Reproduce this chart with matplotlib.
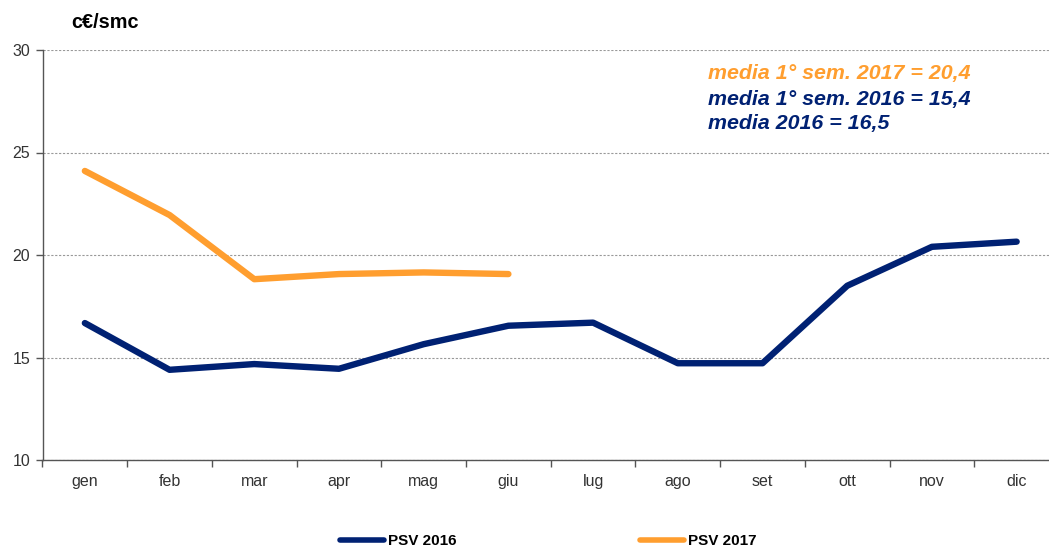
import matplotlib
matplotlib.use("Agg")
import matplotlib.pyplot as plt
from matplotlib.lines import Line2D

months = ["gen", "feb", "mar", "apr", "mag", "giu", "lug", "ago", "set", "ott", "nov", "dic"]
psv_2016 = [16.68, 14.4, 14.68, 14.45, 15.65, 16.55, 16.7, 14.72, 14.72, 18.5, 20.4, 20.65]
psv_2017 = [24.1, 21.95, 18.82, 19.07, 19.15, 19.07]
notes = ["media 1° sem. 2017 = 20,4", "media 1° sem. 2016 = 15,4", "media 2016 = 16,5"]

NAVY = "#002173"
ORANGE = "#FF9E2F"

plt.rcParams['font.family'] = ['Liberation Sans', 'DejaVu Sans']

fig = plt.figure(figsize=(10.49, 5.47), dpi=100)
W, H = 1049, 547
left_px, right_px, top_px, bot_px = 42.5, 1059, 50, 460
ax = fig.add_axes([left_px / W, (H - bot_px) / H, (right_px - left_px) / W, (bot_px - top_px) / H])

x16 = list(range(len(psv_2016)))
x17 = list(range(len(psv_2017)))
ax.plot(x16, psv_2016, color=NAVY, lw=4.6, solid_capstyle='round', solid_joinstyle='round', zorder=3)
ax.plot(x17, psv_2017, color=ORANGE, lw=4.6, solid_capstyle='round', solid_joinstyle='round', zorder=3)

ax.set_xlim(-0.5, 11.5)
ax.set_ylim(10, 30)
ax.set_yticks([10, 15, 20, 25, 30])
ax.set_yticklabels(["10", "15", "20", "25", "30"], fontsize=11.5, color="#333333")
ax.set_xticks(range(12))
ax.set_xticklabels(months, fontsize=11.5, color="#333333")
ax.set_xticks([i - 0.5 for i in range(13)], minor=True)
ax.tick_params(axis='x', which='major', length=0, pad=10)
ax.tick_params(axis='x', which='minor', length=5, width=1, color="#555555", direction='out')
ax.tick_params(axis='y', length=5, width=1, color="#555555", direction='out', pad=4)

ax.yaxis.grid(True, linestyle=(0, (2, 1.5)), color="#999999", lw=0.8)
ax.set_axisbelow(True)
for s in ['top', 'right']:
    ax.spines[s].set_visible(False)
for s in ['left', 'bottom']:
    ax.spines[s].set_color("#555555")
    ax.spines[s].set_linewidth(1.0)

fig.text(71 / W, 1 - 23 / H, "c€/smc", fontsize=14.3, fontweight='bold', va='center', ha='left', color='black')

note_colors = [ORANGE, NAVY, NAVY]
for i, (t, c) in enumerate(zip(notes, note_colors)):
    fig.text(708 / W, 1 - (74 + 25 * i) / H, t, fontsize=15.4, fontweight='bold', fontstyle='italic',
             color=c, va='center', ha='left')

handles = [Line2D([0], [0], color=NAVY, lw=4, solid_capstyle='round'),
           Line2D([0], [0], color=ORANGE, lw=4, solid_capstyle='round')]
fig.legend(handles, ["PSV 2016", "PSV 2017"], loc='center', bbox_to_anchor=(548 / W, 6 / H),
           ncol=2, frameon=False, handlelength=2.9, handletextpad=0.25, columnspacing=12.0,
           prop={'size': 11, 'weight': 'bold'})

fig.savefig("out.png", dpi=100)
